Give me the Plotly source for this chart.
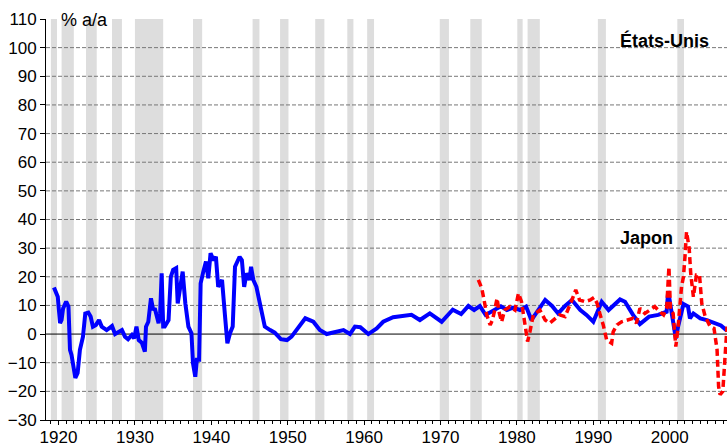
import plotly.graph_objects as go

# ---- data ----
us_year = [1919.4, 1919.7, 1919.9, 1920.2, 1920.4, 1920.6, 1921.0, 1921.3, 1921.5, 1921.7,
           1922.2, 1922.5, 1922.8, 1923.2, 1923.5, 1923.9, 1924.2, 1924.5, 1924.9, 1925.3,
           1925.65, 1926.3, 1927.0, 1927.4, 1928.3, 1928.7, 1929.1, 1929.6, 1929.9, 1930.2,
           1930.5, 1930.9, 1931.3, 1931.45, 1931.75, 1932.1, 1932.4, 1932.6, 1933.1, 1933.3,
           1933.5, 1933.7, 1933.9, 1934.4, 1934.7, 1935.0, 1935.4, 1935.6, 1935.9, 1936.25,
           1936.6, 1937.0, 1937.4, 1937.6, 1937.9, 1938.1, 1938.4, 1938.6, 1938.95, 1939.3,
           1939.6, 1939.9, 1940.3, 1940.6, 1940.9, 1941.4, 1941.8, 1942.1, 1942.45, 1942.8,
           1943.1, 1943.7, 1944.0, 1944.3, 1944.6, 1945.0, 1945.2, 1945.5, 1945.9, 1946.3,
           1946.6, 1947.0, 1947.7, 1948.3, 1949.1, 1949.9, 1950.5, 1951.2, 1952.3, 1953.35,
           1954.2, 1955.1, 1956.4, 1957.3, 1958.15, 1958.8, 1959.5, 1960.55, 1961.65, 1962.5,
           1963.8, 1965.1, 1966.2, 1967.3, 1968.6, 1970.15, 1971.6, 1972.7, 1973.65, 1974.4,
           1975.15, 1975.9, 1976.9, 1977.9, 1978.7, 1979.5, 1980.4, 1981.2, 1981.9, 1982.8,
           1983.7, 1984.6, 1985.4, 1986.3, 1987.2, 1988.3, 1989.1, 1990.0, 1991.1, 1992.0,
           1993.5, 1994.15, 1995.2, 1996.1, 1997.3, 1998.5, 1999.6, 1999.8, 2000.25, 2000.8,
           2001.1, 2001.8, 2002.4, 2002.65, 2003.1, 2004.0, 2004.85, 2005.95, 2006.7, 2007.5]
us_val = [16.3, 13.6, 13.0, 3.8, 4.9, 9.0, 11.3, 9.6, -5.5, -7.3,
          -15.3, -13.6, -5.5, -0.9, 7.2, 7.5, 6.1, 2.6, 3.2, 4.9,
          2.6, 1.4, 2.8, 0.0, 1.4, -0.9, -1.8, -0.3, -1.5, 2.6,
          -2.1, -3.0, -6.1, 2.6, 4.3, 12.5, 8.4, 9.0, 3.8, 7.2,
          21.2, 2.6, 2.6, 4.9, 20.0, 22.4, 23.0, 10.7, 15.4, 21.8,
          10.7, 2.6, 0.3, -10.2, -14.9, -9.0, -9.0, 17.7, 21.8, 25.3,
          19.5, 28.2, 25.8, 27.0, 16.5, 18.9, 6.1, -3.2, 0.3, 2.6,
          23.5, 27.0, 25.8, 16.5, 21.2, 18.9, 23.5, 18.9, 16.5, 11.9,
          7.3, 2.6, 1.4, 0.5, -1.8, -2.1, -0.9, 1.7, 5.5, 4.3,
          1.4, 0.0, 0.8, 1.4, 0.0, 2.6, 2.4, 0.0, 2.0, 4.3,
          5.9, 6.3, 6.7, 4.9, 7.2, 4.3, 8.5, 7.0, 9.8, 8.4,
          9.8, 6.7, 8.4, 9.7, 8.4, 9.2, 8.4, 9.6, 4.9, 8.4,
          11.9, 9.8, 7.2, 9.8, 11.9, 8.4, 6.7, 4.3, 11.3, 8.4,
          12.1, 11.3, 6.7, 3.5, 6.1, 6.7, 7.8, 15.0, 7.5, -1.5,
          2.6, 10.5, 9.6, 5.5, 7.2, 5.5, 4.9, 3.8, 3.0, 1.2]

jp_year = [1974.95, 1975.4, 1975.7, 1976.05, 1976.5, 1976.8, 1977.1, 1977.4, 1977.7, 1978.0,
           1978.4, 1979.1, 1979.75, 1980.2, 1980.6, 1981.05, 1981.4, 1981.7, 1982.15, 1983.0,
           1983.7, 1984.3, 1985.0, 1985.6, 1986.3, 1986.7, 1987.2, 1987.7, 1988.2, 1988.9,
           1989.6, 1990.1, 1990.5, 1990.9, 1991.3, 1991.75, 1992.4, 1992.6, 1993.1, 1993.7,
           1994.6, 1995.2, 1995.65, 1996.1, 1996.75, 1997.4, 1998.05, 1998.7, 1999.2, 1999.6,
           1999.9, 2000.1, 2000.45, 2000.8, 2001.1, 2001.55, 2001.8, 2002.0, 2002.2, 2002.55,
           2002.75, 2003.1, 2003.5, 2003.9, 2004.2, 2004.65, 2005.3, 2005.8, 2006.2, 2006.4,
           2006.6, 2006.95, 2007.3, 2007.5]
jp_val = [18.9, 16.0, 11.9, 6.7, 3.2, 4.9, 8.4, 12.5, 7.2, 4.3,
          8.4, 9.6, 8.4, 14.2, 11.3, 3.8, -2.6, 0.8, 6.7, 8.4,
          4.9, 3.8, 5.5, 6.7, 6.1, 8.4, 11.9, 15.4, 11.9, 11.3,
          11.9, 12.8, 10.7, 6.7, 3.2, -2.1, -3.2, 0.8, 3.2, 4.3,
          4.9, 5.5, 3.8, 9.0, 7.2, 8.4, 9.6, 7.8, 6.7, 9.0,
          23.5, 8.4, 7.2, -4.4, 2.6, 16.5, 20.0, 27.0, 35.7, 30.0,
          21.2, 13.0, 20.6, 20.6, 10.7, 6.1, 2.6, 2.0, -5.5, -18.3,
          -21.2, -20.0, -5.5, 2.6]

# US recession bands (start, end), decimal years
rec_start = [1919.0, 1920.4, 1923.6, 1927.0, 1930.0, 1937.6, 1945.4, 1949.0, 1953.6,
             1957.8, 1960.4, 1969.9, 1973.9, 1980.05, 1981.4, 1990.6, 2001.0]
rec_end = [1919.8, 1922.0, 1925.0, 1928.3, 1933.7, 1938.8, 1946.3, 1950.1, 1954.8,
           1958.6, 1961.3, 1971.1, 1975.4, 1980.75, 1983.0, 1991.65, 2001.87]

y_ticks = list(range(-30, 111, 10))
grid_vals = list(range(-20, 101, 10))

FONT = "Liberation Sans, Arial, sans-serif"

fig = go.Figure()

fig.add_trace(go.Scatter(x=us_year, y=us_val, mode="lines",
                         line=dict(color="#0000FF", width=4), name="États-Unis"))
fig.add_trace(go.Scatter(x=jp_year, y=jp_val, mode="lines",
                         line=dict(color="#FF0000", width=3.5, dash="7px,4px"), name="Japon"))

shapes = []
for s, e in zip(rec_start, rec_end):
    shapes.append(dict(type="rect", xref="x", yref="paper", x0=s, x1=e, y0=0, y1=1,
                       fillcolor="#DDDDDD", line=dict(width=0), layer="below"))
for g in grid_vals:
    if g == 0:
        continue
    shapes.append(dict(type="line", xref="paper", yref="y", x0=0, x1=1, y0=g, y1=g,
                       line=dict(color="#777777", width=1, dash="4px,2px"), layer="below"))
shapes.append(dict(type="line", xref="paper", yref="y", x0=0, x1=1, y0=0, y1=0,
                   line=dict(color="black", width=1), layer="below"))

fig.update_layout(
    width=727, height=446,
    margin=dict(l=46, r=0, t=19, b=26),
    paper_bgcolor="white", plot_bgcolor="white",
    showlegend=False,
    font=dict(family=FONT, size=17, color="black"),
    shapes=shapes,
    xaxis=dict(range=[1918.36, 2007.5], tick0=1920, dtick=10, ticks="outside",
               ticklen=4, tickwidth=1, tickcolor="black", showline=True,
               linecolor="black", linewidth=1, showgrid=False, zeroline=False,
               automargin=False, tickfont=dict(size=17), ticklabelstandoff=-2,
               minor=dict(dtick=1, tick0=1920, ticks="outside", ticklen=3,
                          tickcolor="black", showgrid=False)),
    yaxis=dict(range=[-30, 110], tickvals=y_ticks, ticks="outside", ticklen=5,
               tickwidth=1, tickcolor="black", showline=True, linecolor="black",
               linewidth=1, showgrid=False, zeroline=False, automargin=False,
               tickfont=dict(size=17)),
    annotations=[
        dict(text="% a/a", xref="paper", yref="paper", x=0.019, y=0.997,
             xanchor="left", yanchor="middle", showarrow=False,
             font=dict(size=18)),
        dict(text="<b>États-Unis</b>", xref="paper", yref="paper", x=0.84, y=0.947,
             xanchor="left", yanchor="middle", showarrow=False,
             font=dict(size=18)),
        dict(text="<b>Japon</b>", xref="paper", yref="paper", x=0.84, y=0.4535,
             xanchor="left", yanchor="middle", showarrow=False,
             font=dict(size=18)),
    ],
)

fig.write_html("out.html", config={"displayModeBar": False},
               post_script="document.body.style.margin='0';")
